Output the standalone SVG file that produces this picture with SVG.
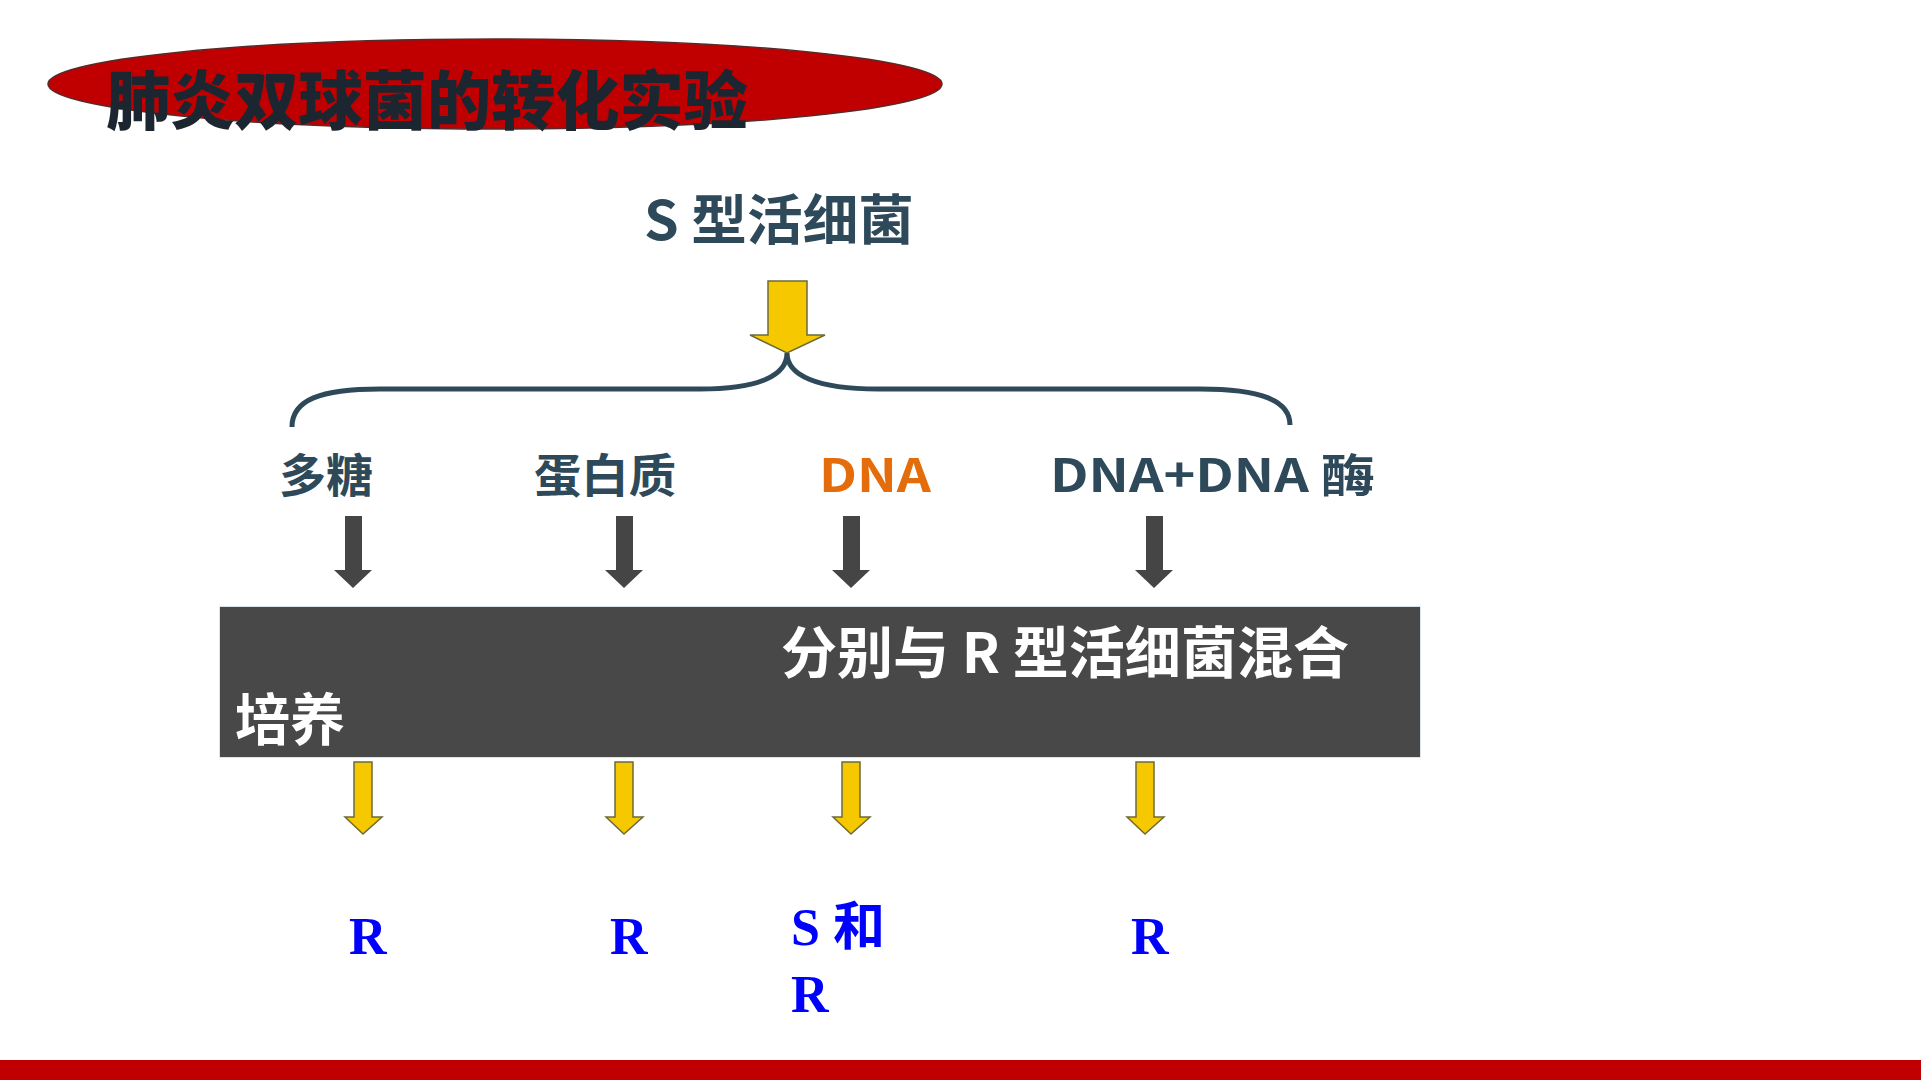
<svg xmlns="http://www.w3.org/2000/svg" width="1921" height="1080" viewBox="0 0 1921 1080">
<style>
.cjk{font-family:"Noto Sans CJK SC","Noto Sans",sans-serif;font-weight:700}
.lbl{fill:#2E4A5A;font-size:46px}
.res{font-family:"Liberation Serif","Noto Sans CJK SC",serif;font-weight:700;fill:#0000FF;font-size:52px}
.ya{fill:#F5C800;stroke:#6B6B3A;stroke-width:1.5}
.da{fill:#454545}
</style>
<rect width="1921" height="1080" fill="#FFFFFF"/>
<g id="title">
<ellipse cx="495" cy="84" rx="447" ry="45" fill="#C00000" stroke="#5A2A2A" stroke-width="1.5"/>
<text x="106" y="124" class="cjk" style="font-weight:900;font-size:64px;fill:#1C2630" textLength="642" lengthAdjust="spacingAndGlyphs">肺炎双球菌的转化实验</text>
</g>
<g id="s-live">
<text x="644" y="240" class="cjk" style="font-size:54px;fill:#2E4A5A" textLength="270" lengthAdjust="spacingAndGlyphs">S 型活细菌</text>
</g>
<g id="connectors">
<path class="ya" d="M768,281 H807 V335 H825 L787,353 L750,335 H768 Z"/>
<path d="M292,427 C292,400 320,389 380,389 H700 C760,389 787,375 787,353 C787,375 816,389 878,389 H1200 C1260,389 1290,400 1290,425" fill="none" stroke="#2E4A5A" stroke-width="5"/>
<path class="da" d="M345,516 H362 V570 H372 L353,588 L334,570 H345 Z"/>
<path class="da" d="M616,516 H633 V570 H643 L624,588 L605,570 H616 Z"/>
<path class="da" d="M843,516 H860 V570 H870 L851,588 L832,570 H843 Z"/>
<path class="da" d="M1146,516 H1163 V570 H1173 L1154,588 L1135,570 H1146 Z"/>
<path class="ya" d="M354,762 H372 V817 H382 L363,834 L345,817 H354 Z"/>
<path class="ya" d="M615,762 H633 V817 H643 L624,834 L606,817 H615 Z"/>
<path class="ya" d="M842,762 H860 V817 H870 L851,834 L833,817 H842 Z"/>
<path class="ya" d="M1136,762 H1154 V817 H1164 L1145,834 L1127,817 H1136 Z"/>
</g>
<g id="polysaccharide"><text x="279" y="492" class="cjk lbl" textLength="94" lengthAdjust="spacingAndGlyphs">多糖</text></g>
<g id="protein"><text x="534" y="492" class="cjk lbl" textLength="142" lengthAdjust="spacingAndGlyphs">蛋白质</text></g>
<g id="dna"><text x="819" y="492" class="cjk lbl" style="fill:#E46C0A" textLength="112" lengthAdjust="spacingAndGlyphs">DNA</text></g>
<g id="dna-enzyme"><text x="1050" y="492" class="cjk lbl" textLength="325" lengthAdjust="spacingAndGlyphs">DNA+DNA 酶</text></g>
<g id="mix-box">
<rect x="219.5" y="606.5" width="1201" height="151" fill="#484848" stroke="#D8E4EE" stroke-width="1"/>
<text x="781" y="673" class="cjk" style="font-size:56px;fill:#FFFFFF" textLength="568" lengthAdjust="spacingAndGlyphs">分别与 R 型活细菌混合</text>
<text x="235" y="740" class="cjk" style="font-size:56px;fill:#FFFFFF" textLength="110" lengthAdjust="spacingAndGlyphs">培养</text>
</g>
<g id="result1"><text x="349" y="954" class="res">R</text></g>
<g id="result2"><text x="610" y="954" class="res">R</text></g>
<g id="result3"><text x="791" y="945" class="res">S 和</text><text x="791" y="1012" class="res">R</text></g>
<g id="result4"><text x="1131" y="954" class="res">R</text></g>
<rect id="bottom-bar" x="0" y="1060" width="1921" height="20" fill="#C00000"/>
</svg>
